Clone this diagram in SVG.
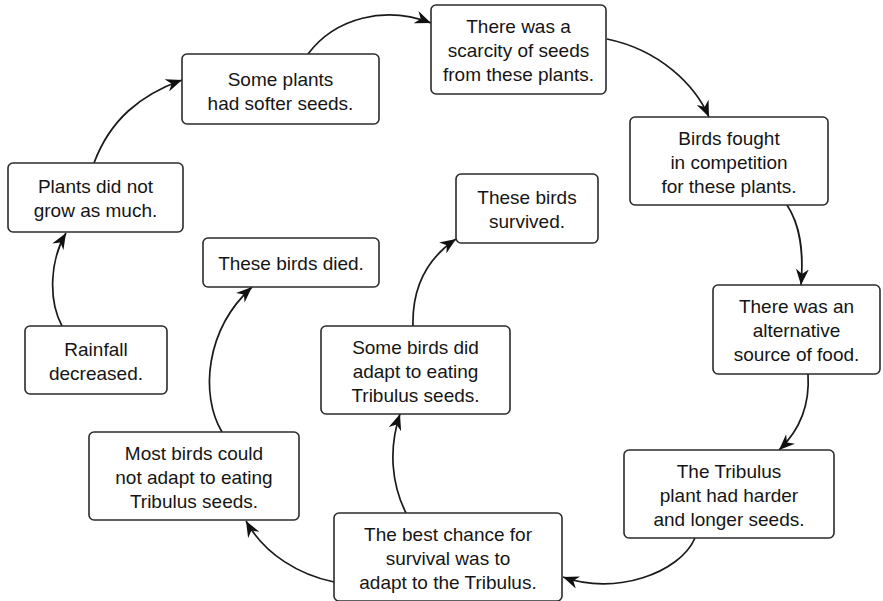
<svg xmlns="http://www.w3.org/2000/svg" width="883" height="601" viewBox="0 0 883 601">
  <style>
    .box { fill: #ffffff; stroke: #2b2b2b; stroke-width: 1.6; }
    .lbl { font-family: "Liberation Sans", Arial, sans-serif; font-size: 19px; fill: #151515; text-anchor: middle; }
    .edge { fill: none; stroke: #1a1a1a; stroke-width: 1.7; marker-end: url(#head); }
  </style>
  <defs>
    <marker id="head" markerUnits="userSpaceOnUse" markerWidth="17" markerHeight="13" refX="16" refY="6.5" orient="auto">
      <path d="M0,0 L16,6.5 L0,13 L5,6.5 Z" fill="#111"/>
    </marker>
  </defs>
  <rect width="883" height="601" fill="#ffffff"/>

  <g id="connectors">
    <path class="edge" d="M62,326 C48,300 50,260 66,233"/>
    <path class="edge" d="M94,163 C110,120 140,95 182,80"/>
    <path class="edge" d="M308,54 C335,18 385,5 431,23"/>
    <path class="edge" d="M607,39 C660,50 695,85 709,117"/>
    <path class="edge" d="M787,205 C800,225 804,250 801,285"/>
    <path class="edge" d="M808,374 C810,405 800,430 779,450"/>
    <path class="edge" d="M695,538 C680,573 615,596 563,577"/>
    <path class="edge" d="M334,582 C300,575 265,555 246,521"/>
    <path class="edge" d="M222,432 C200,395 205,330 252,287"/>
    <path class="edge" d="M406,513 C392,485 388,450 400,414"/>
    <path class="edge" d="M413,326 C412,290 425,260 456,239"/>
  </g>

  <g id="rainfall">
    <rect class="box" x="25" y="326" width="142" height="68" rx="5"/>
    <text class="lbl" x="96" y="356">Rainfall</text>
    <text class="lbl" x="96" y="380">decreased.</text>
  </g>

  <g id="plants-grow">
    <rect class="box" x="8" y="163" width="175" height="69" rx="5"/>
    <text class="lbl" x="95.5" y="193">Plants did not</text>
    <text class="lbl" x="95.5" y="217">grow as much.</text>
  </g>

  <g id="softer-seeds">
    <rect class="box" x="182" y="54" width="197" height="70" rx="5"/>
    <text class="lbl" x="280.5" y="86">Some plants</text>
    <text class="lbl" x="280.5" y="110">had softer seeds.</text>
  </g>

  <g id="scarcity">
    <rect class="box" x="431" y="5" width="175" height="89" rx="5"/>
    <text class="lbl" x="518.5" y="33">There was a</text>
    <text class="lbl" x="518.5" y="57">scarcity of seeds</text>
    <text class="lbl" x="518.5" y="81">from these plants.</text>
  </g>

  <g id="competition">
    <rect class="box" x="630" y="117" width="198" height="88" rx="5"/>
    <text class="lbl" x="729" y="145">Birds fought</text>
    <text class="lbl" x="729" y="169">in competition</text>
    <text class="lbl" x="729" y="193">for these plants.</text>
  </g>

  <g id="alternative-food">
    <rect class="box" x="713" y="285" width="167" height="89" rx="5"/>
    <text class="lbl" x="796.5" y="313">There was an</text>
    <text class="lbl" x="796.5" y="337">alternative</text>
    <text class="lbl" x="796.5" y="361">source of food.</text>
  </g>

  <g id="tribulus-seeds">
    <rect class="box" x="624" y="450" width="210" height="88" rx="5"/>
    <text class="lbl" x="729" y="478">The Tribulus</text>
    <text class="lbl" x="729" y="502">plant had harder</text>
    <text class="lbl" x="729" y="526">and longer seeds.</text>
  </g>

  <g id="best-chance">
    <rect class="box" x="334" y="513" width="228" height="88" rx="5"/>
    <text class="lbl" x="448" y="541">The best chance for</text>
    <text class="lbl" x="448" y="565">survival was to</text>
    <text class="lbl" x="448" y="589">adapt to the Tribulus.</text>
  </g>

  <g id="could-not-adapt">
    <rect class="box" x="89" y="432" width="210" height="88" rx="5"/>
    <text class="lbl" x="194" y="460">Most birds could</text>
    <text class="lbl" x="194" y="484">not adapt to eating</text>
    <text class="lbl" x="194" y="508">Tribulus seeds.</text>
  </g>

  <g id="birds-died">
    <rect class="box" x="203" y="238" width="176" height="49" rx="5"/>
    <text class="lbl" x="291" y="270">These birds died.</text>
  </g>

  <g id="did-adapt">
    <rect class="box" x="321" y="326" width="189" height="88" rx="5"/>
    <text class="lbl" x="415.5" y="354">Some birds did</text>
    <text class="lbl" x="415.5" y="378">adapt to eating</text>
    <text class="lbl" x="415.5" y="402">Tribulus seeds.</text>
  </g>

  <g id="birds-survived">
    <rect class="box" x="456" y="174" width="142" height="69" rx="5"/>
    <text class="lbl" x="527" y="204">These birds</text>
    <text class="lbl" x="527" y="228">survived.</text>
  </g>
</svg>
